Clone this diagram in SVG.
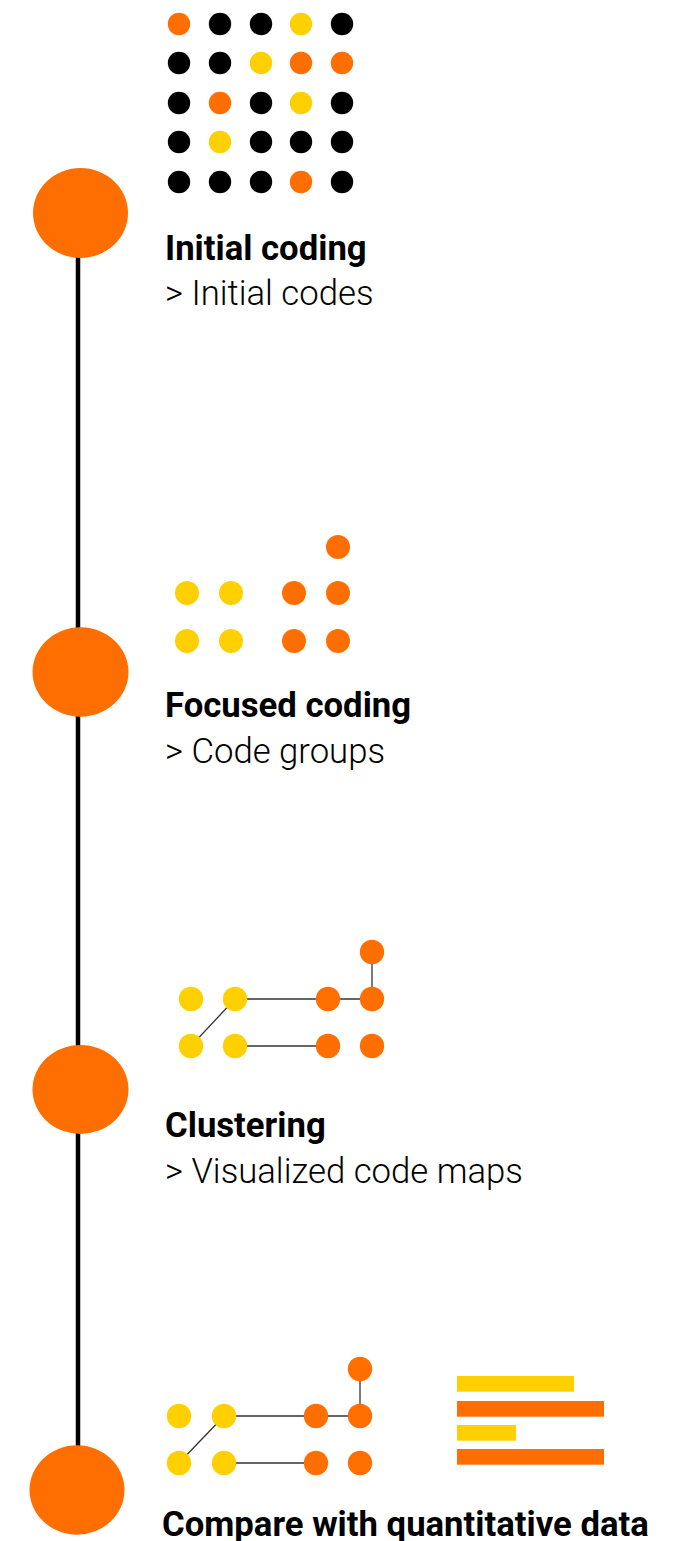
<svg xmlns="http://www.w3.org/2000/svg" width="681" height="1541" viewBox="0 0 681 1541">
<style>
.o{fill:#FF6E00}
.y{fill:#FFD000}
.k{fill:#000}
.big{fill:#FF6E00}
.t{font-family:Roboto,"Liberation Sans",sans-serif;font-weight:700;font-size:34.7px;fill:#000}
.s{font-family:Roboto,"Liberation Sans",sans-serif;font-weight:300;font-size:34.7px;fill:#000}
.ln{stroke:#333;stroke-width:1.3;fill:none}
.bar{stroke:none}
</style>
<rect width="681" height="1541" fill="#fff"/>
<g id="timeline">
<line x1="78" y1="213" x2="78" y2="1490" stroke="#000" stroke-width="4.5"/>
</g>
<g id="step1">
<ellipse class="big" cx="80.5" cy="213" rx="47.5" ry="45"/>
<g id="grid">
<circle class="o" cx="179" cy="24" r="11.2"/><circle class="k" cx="220" cy="24" r="11.2"/><circle class="k" cx="261" cy="24" r="11.2"/><circle class="y" cx="301" cy="24" r="11.2"/><circle class="k" cx="342" cy="24" r="11.2"/>
<circle class="k" cx="179" cy="63" r="11.2"/><circle class="k" cx="220" cy="63" r="11.2"/><circle class="y" cx="261" cy="63" r="11.2"/><circle class="o" cx="301" cy="63" r="11.2"/><circle class="o" cx="342" cy="63" r="11.2"/>
<circle class="k" cx="179" cy="103" r="11.2"/><circle class="o" cx="220" cy="103" r="11.2"/><circle class="k" cx="261" cy="103" r="11.2"/><circle class="y" cx="301" cy="103" r="11.2"/><circle class="k" cx="342" cy="103" r="11.2"/>
<circle class="k" cx="179" cy="142" r="11.2"/><circle class="y" cx="220" cy="142" r="11.2"/><circle class="k" cx="261" cy="142" r="11.2"/><circle class="k" cx="301" cy="142" r="11.2"/><circle class="k" cx="342" cy="142" r="11.2"/>
<circle class="k" cx="179" cy="182" r="11.2"/><circle class="k" cx="220" cy="182" r="11.2"/><circle class="k" cx="261" cy="182" r="11.2"/><circle class="o" cx="301" cy="182" r="11.2"/><circle class="k" cx="342" cy="182" r="11.2"/>
</g>
<text class="t" x="165" y="260">Initial coding</text>
<text class="s" x="165" y="305">&gt; Initial codes</text>
</g>
<g id="step2">
<ellipse class="big" cx="80.5" cy="672" rx="48" ry="44.7"/>
<circle class="y" cx="187" cy="593" r="12"/><circle class="y" cx="231" cy="593" r="12"/>
<circle class="y" cx="187" cy="641" r="12"/><circle class="y" cx="231" cy="641" r="12"/>
<circle class="o" cx="338" cy="547" r="12"/>
<circle class="o" cx="294" cy="593" r="12"/><circle class="o" cx="338" cy="593" r="12"/>
<circle class="o" cx="294" cy="641" r="12"/><circle class="o" cx="338" cy="641" r="12"/>
<text class="t" x="165" y="717">Focused coding</text>
<text class="s" x="165" y="763">&gt; Code groups</text>
</g>
<g id="connectors">
<line class="ln" x1="191" y1="1046" x2="235" y2="999"/>
<line class="ln" x1="235" y1="999" x2="372" y2="999"/>
<line class="ln" x1="235" y1="1046" x2="328" y2="1046"/>
<line class="ln" x1="372" y1="952" x2="372" y2="999"/>
<line class="ln" x1="179" y1="1463" x2="224" y2="1416"/>
<line class="ln" x1="224" y1="1416" x2="360" y2="1416"/>
<line class="ln" x1="224" y1="1463" x2="316" y2="1463"/>
<line class="ln" x1="360" y1="1369" x2="360" y2="1416"/>
</g>
<g id="step3">
<ellipse class="big" cx="80.5" cy="1089.5" rx="48" ry="44.5"/>
<circle class="y" cx="191" cy="999" r="12.2"/><circle class="y" cx="235" cy="999" r="12.2"/>
<circle class="y" cx="191" cy="1046" r="12.2"/><circle class="y" cx="235" cy="1046" r="12.2"/>
<circle class="o" cx="372" cy="952" r="12.2"/>
<circle class="o" cx="328" cy="999" r="12.2"/><circle class="o" cx="372" cy="999" r="12.2"/>
<circle class="o" cx="328" cy="1046" r="12.2"/><circle class="o" cx="372" cy="1046" r="12.2"/>
<text class="t" x="165" y="1137">Clustering</text>
<text class="s" x="165" y="1183">&gt; Visualized code maps</text>
</g>
<g id="step4">
<ellipse class="big" cx="77" cy="1490" rx="47.5" ry="44.7"/>
<circle class="y" cx="179" cy="1416" r="12.2"/><circle class="y" cx="224" cy="1416" r="12.2"/>
<circle class="y" cx="179" cy="1463" r="12.2"/><circle class="y" cx="224" cy="1463" r="12.2"/>
<circle class="o" cx="360" cy="1369" r="12.2"/>
<circle class="o" cx="316" cy="1416" r="12.2"/><circle class="o" cx="360" cy="1416" r="12.2"/>
<circle class="o" cx="316" cy="1463" r="12.2"/><circle class="o" cx="360" cy="1463" r="12.2"/>
<g id="bars">
<rect class="y bar" x="457" y="1376" width="117" height="15.7"/>
<rect class="o bar" x="457" y="1401" width="147" height="15.7"/>
<rect class="y bar" x="457" y="1425" width="59" height="15.7"/>
<rect class="o bar" x="457" y="1449" width="147" height="15.7"/>
</g>
<text class="t" x="162" y="1536">Compare with quantitative data</text>
</g>
</svg>
